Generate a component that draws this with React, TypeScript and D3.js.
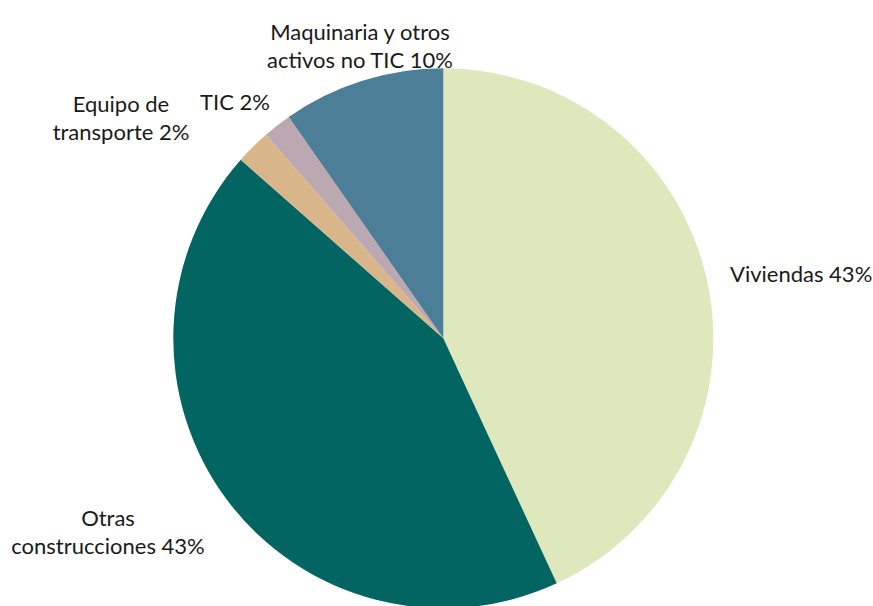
import React from "react";
import * as d3 from "d3";

const categories = [
  "Viviendas",
  "Otras construcciones",
  "Equipo de transporte",
  "TIC",
  "Maquinaria y otros activos no TIC",
];
const values = [43.1, 43.4, 2.1, 1.7, 9.7];
const pctLabels = ["43%", "43%", "2%", "2%", "10%"];
const colors = ["#dfe7bc", "#036562", "#d9b58a", "#bca8b1", "#4d7e98"];
// label lines (text only)
const labelLines = [
  ["Viviendas 43%"],
  ["Otras", "construcciones 43%"],
  ["Equipo de", "transporte 2%"],
  ["TIC 2%"],
  ["Maquinaria y otros", "activos no TIC 10%"],
];

// layout (positions of label blocks: x, first baseline, anchor)
const labelLayout: { x: number; y: number; anchor: string }[] = [
  { x: 730, y: 282, anchor: "start" },
  { x: 108, y: 526, anchor: "middle" },
  { x: 121, y: 112, anchor: "middle" },
  { x: 235, y: 110, anchor: "middle" },
  { x: 360, y: 40, anchor: "middle" },
];

const W = 873;
const H = 606;
const cx = 443.3;
const cy = 338.3;
const R = 270;
const lineH = 27.5;

export default function App() {
  const pie = d3
    .pie<number>()
    .sort(null)
    .value((d) => d)(values);
  const arc = d3.arc<d3.PieArcDatum<number>>().innerRadius(0).outerRadius(R);

  return (
    <svg
      width={W}
      height={H}
      style={{ position: "absolute", left: 0, top: 0, background: "#fff" }}
      fontFamily="Lato, 'Open Sans', sans-serif"
    >
      <g transform={`translate(${cx},${cy})`}>
        {pie.map((p, i) => (
          <path key={categories[i]} d={arc(p) || ""} fill={colors[i]} />
        ))}
      </g>
      {labelLines.map((lines, i) => (
        <text
          key={i}
          x={labelLayout[i].x}
          y={labelLayout[i].y}
          textAnchor={labelLayout[i].anchor}
          fontSize={22}
          fill="#1a1a1a"
        >
          {lines.map((l, j) => (
            <tspan key={j} x={labelLayout[i].x} dy={j === 0 ? 0 : lineH}>
              {l}
            </tspan>
          ))}
        </text>
      ))}
    </svg>
  );
}
